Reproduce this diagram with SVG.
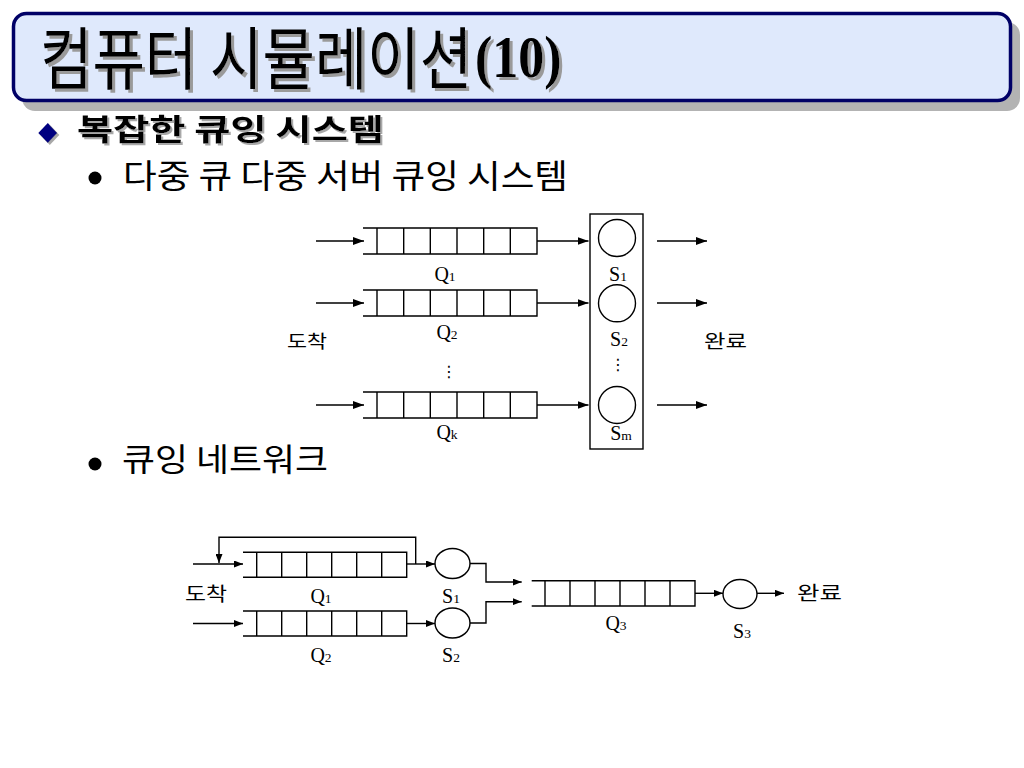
<svg xmlns="http://www.w3.org/2000/svg" width="1024" height="768" viewBox="0 0 1024 768">
<defs>
<style>
.ko{font-family:"Noto Sans CJK KR","Noto Sans",sans-serif;}
.lbl{font-family:"Liberation Serif","Times New Roman",serif;font-size:20px;fill:#000;}
.sub{font-size:13.5px;}
.ln{fill:none;stroke:#000;stroke-width:1.4;}
.q{fill:none;stroke:#000;stroke-width:1.4;}
.srv{fill:#fff;stroke:#000;stroke-width:1.4;}
</style>
<filter id="sh3" x="-5%" y="-10%" width="110%" height="130%">
<feFlood flood-color="#9a9a9a" result="c"/>
<feComposite in="c" in2="SourceAlpha" operator="in" result="s"/>
<feOffset in="s" dx="3" dy="3" result="o"/>
<feMerge><feMergeNode in="o"/><feMergeNode in="SourceGraphic"/></feMerge>
</filter>
<filter id="sh2" x="-5%" y="-10%" width="110%" height="130%">
<feFlood flood-color="#a8a8a8" result="c"/>
<feComposite in="c" in2="SourceAlpha" operator="in" result="s"/>
<feOffset in="s" dx="2" dy="2" result="o"/>
<feMerge><feMergeNode in="o"/><feMergeNode in="SourceGraphic"/></feMerge>
</filter>
<marker id="ah" markerUnits="userSpaceOnUse" markerWidth="12" markerHeight="8" refX="11" refY="4" orient="auto">
<path d="M0,0 L11,4 L0,8 Z" fill="#000"/>
</marker>
<marker id="ahs" markerUnits="userSpaceOnUse" markerWidth="10" markerHeight="7" refX="9" refY="3.5" orient="auto">
<path d="M0,0 L9,3.5 L0,7 Z" fill="#000"/>
</marker>
</defs>
<rect x="0" y="0" width="1024" height="768" fill="#fff"/>

<g id="title">
<rect x="22" y="22" width="998" height="89" rx="13" fill="#b3b3b3"/>
<rect x="13.5" y="13.5" width="997" height="87" rx="13" fill="#dfe9fc" stroke="#000066" stroke-width="3.5"/>
<g filter="url(#sh3)">
<text class="ko" transform="translate(40,84) scale(1,1.2)" x="0" y="0" font-size="57" fill="#000">컴퓨터 시뮬레이션</text>
<text transform="translate(475,77) scale(1,1.12)" x="0" y="0" font-family="Liberation Serif,serif" font-weight="bold" font-size="52" fill="#000">(10)</text>
</g>
</g>

<g id="bullets">
<g filter="url(#sh2)">
<path d="M47.8,123 L57.3,133 L47.8,143 L38.3,133 Z" fill="#000080"/>
<text class="ko" x="77" y="140" font-size="30" font-weight="bold" fill="#000" textLength="307" lengthAdjust="spacingAndGlyphs">복잡한 큐잉 시스템</text>
</g>
<circle cx="95" cy="178" r="6.5" fill="#000"/>
<text class="ko" x="123" y="188" font-size="33" fill="#000" textLength="445" lengthAdjust="spacingAndGlyphs">다중 큐 다중 서버 큐잉 시스템</text>
<circle cx="95" cy="464" r="6.5" fill="#000"/>
<text class="ko" x="122" y="471" font-size="32" fill="#000" textLength="206" lengthAdjust="spacingAndGlyphs">큐잉 네트워크</text>
</g>

<!-- Top diagram: multi-queue multi-server -->
<g id="top-Q1">
<path class="q" d="M363,228 H537 V254 H363 M377,228 V254 M403.7,228 V254 M430.3,228 V254 M457,228 V254 M483.7,228 V254 M510.3,228 V254"/>
<text class="lbl" x="445" y="281" text-anchor="middle">Q<tspan class="sub">1</tspan></text>
</g>
<g id="top-Q2">
<path class="q" d="M363,290 H537 V316 H363 M377,290 V316 M403.7,290 V316 M430.3,290 V316 M457,290 V316 M483.7,290 V316 M510.3,290 V316"/>
<text class="lbl" x="447" y="339" text-anchor="middle">Q<tspan class="sub">2</tspan></text>
<text x="449" y="377" font-family="DejaVu Sans,sans-serif" font-size="16" text-anchor="middle">⋮</text>
</g>
<g id="top-Qk">
<path class="q" d="M363,392 H537 V418 H363 M377,392 V418 M403.7,392 V418 M430.3,392 V418 M457,392 V418 M483.7,392 V418 M510.3,392 V418"/>
<text class="lbl" x="447" y="439" text-anchor="middle">Q<tspan class="sub">k</tspan></text>
</g>
<g id="top-servers">
<rect x="590" y="214" width="53" height="235" fill="#fff" stroke="#000" stroke-width="1.4"/>
<circle class="srv" cx="617" cy="238" r="18.5"/>
<circle class="srv" cx="617" cy="303.3" r="18.5"/>
<circle class="srv" cx="617" cy="405" r="18.5"/>
<text class="lbl" x="618" y="281" text-anchor="middle">S<tspan class="sub">1</tspan></text>
<text class="lbl" x="619" y="346" text-anchor="middle">S<tspan class="sub">2</tspan></text>
<text x="618" y="370" font-family="DejaVu Sans,sans-serif" font-size="16" text-anchor="middle">⋮</text>
<text class="lbl" x="621" y="440" text-anchor="middle">S<tspan class="sub">m</tspan></text>
</g>
<g id="top-arrive">
<text class="ko" x="287" y="348" font-size="18" textLength="40" lengthAdjust="spacingAndGlyphs">도착</text>
</g>
<g id="top-done">
<text class="ko" x="704" y="348" font-size="18" textLength="43" lengthAdjust="spacingAndGlyphs">완료</text>
</g>

<!-- Bottom diagram: queueing network -->
<g id="net-Q1">
<path class="q" d="M243,552.3 H406.7 V577.3 H243 M256.7,552.3 V577.3 M281.7,552.3 V577.3 M306.7,552.3 V577.3 M331.7,552.3 V577.3 M356.7,552.3 V577.3 M381.7,552.3 V577.3"/>
<text class="lbl" x="321" y="603" text-anchor="middle">Q<tspan class="sub">1</tspan></text>
</g>
<g id="net-Q2">
<path class="q" d="M243,611 H406.7 V636 H243 M256.7,611 V636 M281.7,611 V636 M306.7,611 V636 M331.7,611 V636 M356.7,611 V636 M381.7,611 V636"/>
<text class="lbl" x="321" y="662" text-anchor="middle">Q<tspan class="sub">2</tspan></text>
</g>
<g id="net-S1">
<ellipse class="srv" cx="452.5" cy="563.5" rx="17.5" ry="15"/>
<text class="lbl" x="451" y="603" text-anchor="middle">S<tspan class="sub">1</tspan></text>
</g>
<g id="net-S2">
<ellipse class="srv" cx="452.5" cy="623" rx="17.5" ry="15"/>
<text class="lbl" x="451" y="662" text-anchor="middle">S<tspan class="sub">2</tspan></text>
</g>
<g id="net-Q3">
<path class="q" d="M531.7,580.7 H695 V606 H531.7 M545,580.7 V606 M570,580.7 V606 M595,580.7 V606 M620,580.7 V606 M645,580.7 V606 M670,580.7 V606"/>
<text class="lbl" x="616" y="630" text-anchor="middle">Q<tspan class="sub">3</tspan></text>
</g>
<g id="net-S3">
<ellipse class="srv" cx="740" cy="594" rx="17" ry="14.5"/>
<text class="lbl" x="742" y="638" text-anchor="middle">S<tspan class="sub">3</tspan></text>
</g>
<g id="net-arrive">
<text class="ko" x="185" y="601" font-size="19" textLength="42" lengthAdjust="spacingAndGlyphs">도착</text>
</g>
<g id="net-done">
<text class="ko" x="797" y="600" font-size="19" textLength="45" lengthAdjust="spacingAndGlyphs">완료</text>
</g>

<g id="connectors">
<path class="ln" d="M316,241 H364" marker-end="url(#ah)"/>
<path class="ln" d="M316,303 H364" marker-end="url(#ah)"/>
<path class="ln" d="M316,405 H364" marker-end="url(#ah)"/>
<path class="ln" d="M537,241 H588.5" marker-end="url(#ah)"/>
<path class="ln" d="M537,303 H588.5" marker-end="url(#ah)"/>
<path class="ln" d="M537,405 H588.5" marker-end="url(#ah)"/>
<path class="ln" d="M657,241 H707" marker-end="url(#ah)"/>
<path class="ln" d="M657,303 H707" marker-end="url(#ah)"/>
<path class="ln" d="M657,405 H707" marker-end="url(#ah)"/>
<path class="ln" d="M193,564 H243" marker-end="url(#ahs)"/>
<path class="ln" d="M193,623.5 H243" marker-end="url(#ahs)"/>
<path class="ln" d="M415.7,564 V537.3 H219 V563" marker-end="url(#ahs)"/>
<path class="ln" d="M406.7,564 H435" marker-end="url(#ahs)"/>
<path class="ln" d="M406.7,623.5 H435" marker-end="url(#ahs)"/>
<path class="ln" d="M470,563.5 H486 V582 H521.7" marker-end="url(#ahs)"/>
<path class="ln" d="M470,623 H486 V601.7 H521.7" marker-end="url(#ahs)"/>
<path class="ln" d="M695,593.3 H723" marker-end="url(#ahs)"/>
<path class="ln" d="M757,593.3 H784" marker-end="url(#ahs)"/>
</g>
</svg>
